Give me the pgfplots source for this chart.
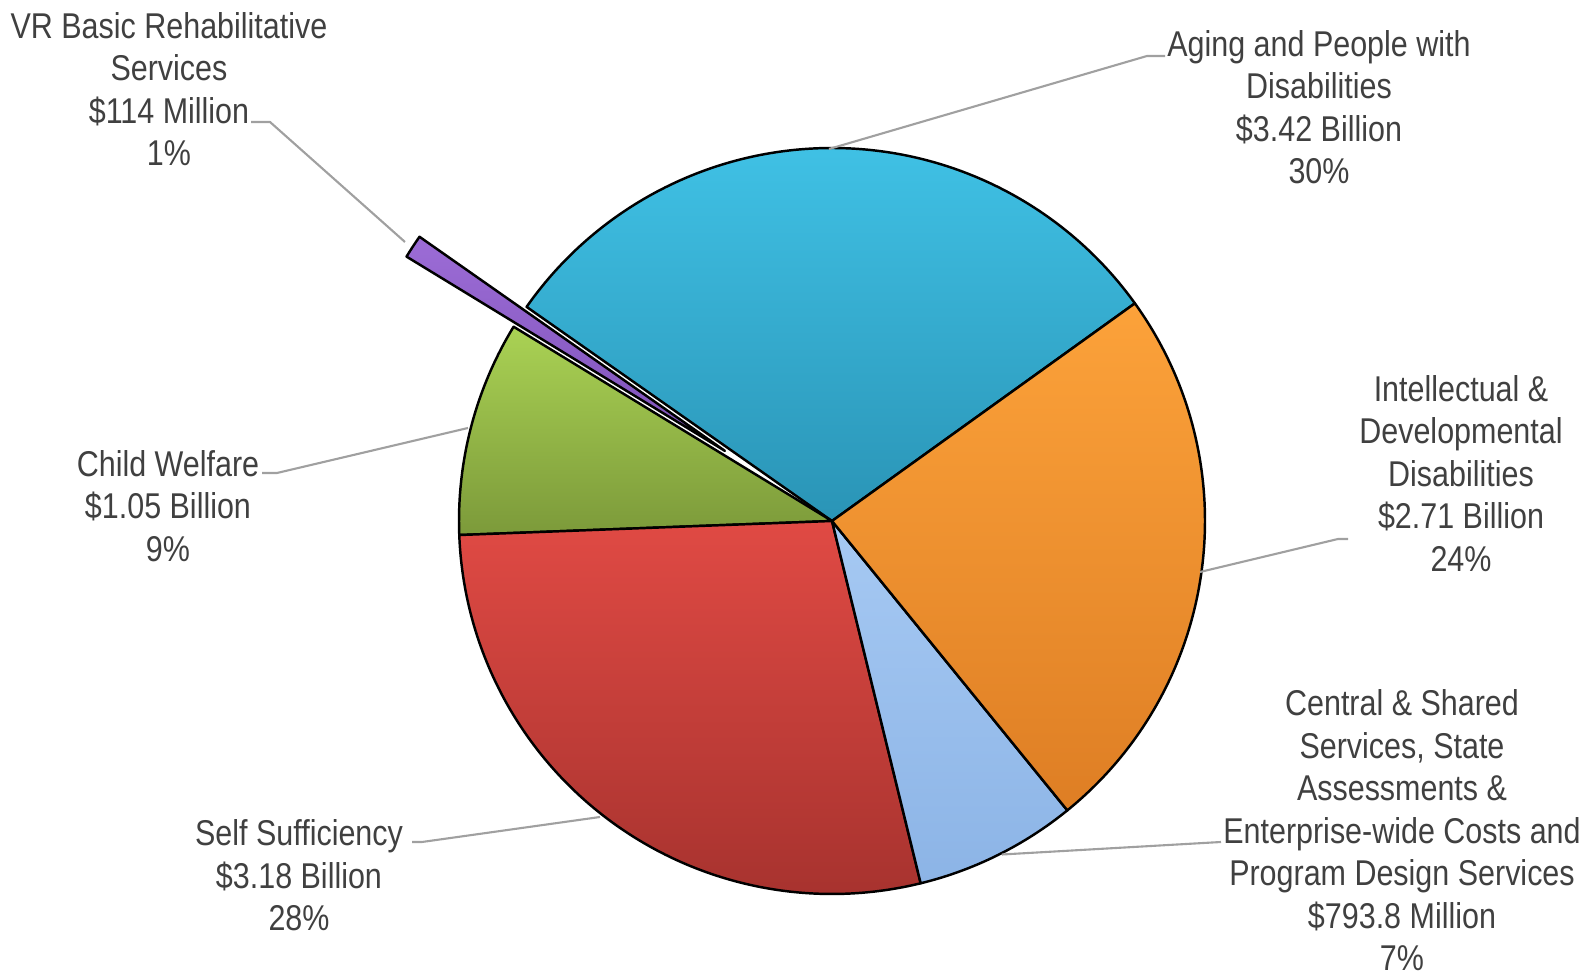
\documentclass[border=0pt]{standalone}
\usepackage{pgfplots}
\usepackage{pgfplotstable}
\pgfplotsset{compat=1.18}
\usepackage{fontspec}
\setmainfont{Liberation Sans}[FakeStretch=0.85]

\definecolor{txt}{HTML}{404040}
\definecolor{lead}{HTML}{A0A0A0}

% slice values (order counter-clockwise from the start angle)
% 0 Aging and People with Disabilities, 1 VR Basic Rehabilitative Services,
% 2 Child Welfare, 3 Self Sufficiency, 4 Central & Shared ..., 5 Intellectual & Developmental Disabilities
\pgfplotstableread{
idx value
0 3.42
1 0.114
2 1.05
3 3.18
4 0.7938
5 2.71
}\piedata

\def\pcx{832}\def\pcy{454}\def\pr{373}\def\startang{35.7}
\pgfmathsetmacro\pietotal{0}
\pgfplotsforeachungrouped \i in {0,...,5}{%
  \pgfplotstablegetelem{\i}{value}\of\piedata
  \pgfmathsetmacro\pietotal{\pietotal+\pgfplotsretval}}
\pgfmathsetmacro\cum{\startang}
\pgfplotsforeachungrouped \i in {0,...,5}{%
  \pgfplotstablegetelem{\i}{value}\of\piedata
  \pgfmathsetmacro\sweep{360*\pgfplotsretval/\pietotal}%
  \pgfmathsetmacro\endang{\cum+\sweep}%
  \pgfmathsetmacro\midang{\cum+\sweep/2}%
  \ifnum\i=1 \def\off{128}\else\def\off{0}\fi
  \pgfmathsetmacro\ocx{\pcx+\off*cos(\midang)}%
  \pgfmathsetmacro\ocy{\pcy+\off*sin(\midang)}%
  \pgfmathsetmacro\osx{\ocx+\pr*cos(\cum)}%
  \pgfmathsetmacro\osy{\ocy+\pr*sin(\cum)}%
  \expandafter\xdef\csname pcx\i\endcsname{\ocx}%
  \expandafter\xdef\csname pcy\i\endcsname{\ocy}%
  \expandafter\xdef\csname psx\i\endcsname{\osx}%
  \expandafter\xdef\csname psy\i\endcsname{\osy}%
  \expandafter\xdef\csname psa\i\endcsname{\cum}%
  \expandafter\xdef\csname pea\i\endcsname{\endang}%
  \let\cum\endang
}

\newcommand\slice[2]{%
  \path[#2, draw=black, line width=0.7pt, line join=round]
   (axis cs:\csname pcx#1\endcsname,\csname pcy#1\endcsname)
   -- (axis cs:\csname psx#1\endcsname,\csname psy#1\endcsname)
   arc[start angle=\csname psa#1\endcsname, end angle=\csname pea#1\endcsname, radius=37.3mm] -- cycle;}

\begin{document}
\begin{tikzpicture}
\begin{axis}[width=159.5mm, height=97.5mm, scale only axis,
  xmin=0, xmax=1595, ymin=0, ymax=975, hide axis, clip=false]
  \slice{0}{top color=cyan!60!blue!0!white!0, top color={rgb,255:red,64;green,194;blue,230}, bottom color={rgb,255:red,42;green,148;blue,182}}
  \slice{2}{top color={rgb,255:red,170;green,210;blue,84}, bottom color={rgb,255:red,124;green,154;blue,58}}
  \slice{3}{top color={rgb,255:red,224;green,74;blue,68}, bottom color={rgb,255:red,166;green,50;blue,46}}
  \slice{4}{top color={rgb,255:red,166;green,201;blue,243}, bottom color={rgb,255:red,140;green,180;blue,230}}
  \slice{5}{top color={rgb,255:red,252;green,162;blue,58}, bottom color={rgb,255:red,222;green,126;blue,36}}
  \slice{1}{top color={rgb,255:red,156;green,108;blue,214}, bottom color={rgb,255:red,126;green,82;blue,184}}

  % leader lines
  \draw[lead, line width=0.6pt] (axis cs:251,853) -- (axis cs:270,853) -- (axis cs:405,733);
  \draw[lead, line width=0.6pt] (axis cs:1165,919) -- (axis cs:1147,919) -- (axis cs:829,826);
  \draw[lead, line width=0.6pt] (axis cs:1348,436) -- (axis cs:1338,436) -- (axis cs:1200,403);
  \draw[lead, line width=0.6pt] (axis cs:1221,133) -- (axis cs:1002,120.5);
  \draw[lead, line width=0.6pt] (axis cs:262,502) -- (axis cs:277,502) -- (axis cs:468,547);
  \draw[lead, line width=0.6pt] (axis cs:412,133) -- (axis cs:422,133) -- (axis cs:600,158);

  \tikzset{lbl/.style={anchor=north, inner sep=0pt, align=center, text=txt,
     font=\fontsize{10.2}{12.1}\selectfont}}
  \node[lbl] at (axis cs:169,963.6) {VR Basic Rehabilitative\\Services\\\$114 Million\\1\%};
  \node[lbl] at (axis cs:1319,945.3) {Aging and People with\\Disabilities\\\$3.42 Billion\\30\%};
  \node[lbl] at (axis cs:1461,600.5) {Intellectual \&\\Developmental\\Disabilities\\\$2.71 Billion\\24\%};
  \node[lbl] at (axis cs:1402,286.1) {Central \& Shared\\Services, State\\Assessments \&\\Enterprise-wide Costs and\\Program Design Services\\\$793.8 Million\\7\%};
  \node[lbl] at (axis cs:168,525.2) {Child Welfare\\\$1.05 Billion\\9\%};
  \node[lbl] at (axis cs:299,156) {Self Sufficiency\\\$3.18 Billion\\28\%};
\end{axis}
\pgfresetboundingbox
\useasboundingbox (0,0) rectangle (159.5mm,97.5mm);
\end{tikzpicture}
\end{document}
